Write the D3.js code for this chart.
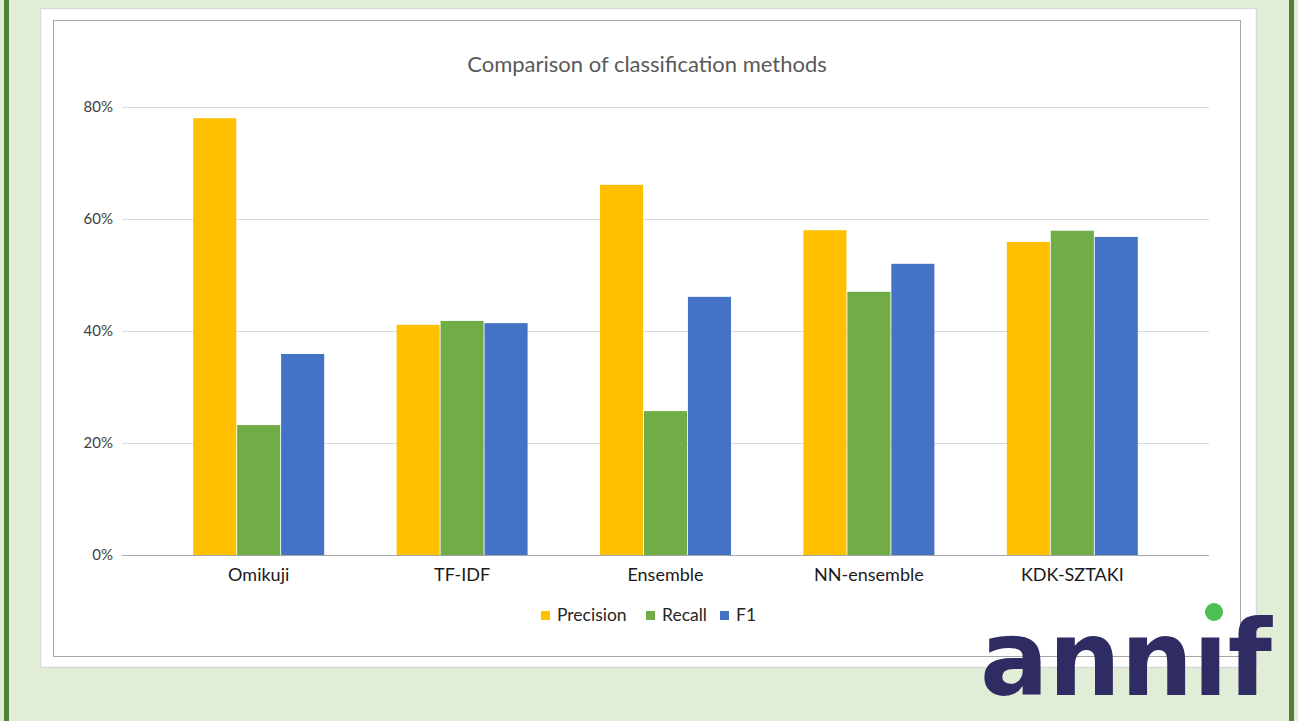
<!DOCTYPE html>
<html><head><meta charset="utf-8">
<script src="https://cdn.jsdelivr.net/npm/d3@7"></script>
<style>html,body{margin:0;padding:0;background:#e2edd8;overflow:hidden}</style>
</head><body>
<script>
const categories = ["Omikuji","TF-IDF","Ensemble","NN-ensemble","KDK-SZTAKI"];
const seriesNames = ["Precision","Recall","F1"];
const precision = [78.0, 41.1, 66.1, 58.0, 55.9];
const recall    = [23.2, 41.8, 25.7, 47.0, 57.9];
const f1        = [35.9, 41.4, 46.1, 52.0, 56.8];
const yTicks = [0, 20, 40, 60, 80];
const colors = ["#FFC000","#70AD47","#4472C4"];
const title = "Comparison of classification methods";

const W = 1298, H = 721;
const svg = d3.select("body").append("svg").attr("width", W).attr("height", H);
svg.append("rect").attr("width", W).attr("height", H).attr("fill", "#e2edd8");
svg.append("rect").attr("x", 4).attr("y", 0).attr("width", 5).attr("height", H).attr("fill", "#538135");
svg.append("rect").attr("x", 1289).attr("y", 0).attr("width", 5).attr("height", H).attr("fill", "#538135");
svg.append("rect").attr("x", 40.5).attr("y", 8.5).attr("width", 1216).attr("height", 659)
  .attr("fill", "#fff").attr("stroke", "#d9d9d9").attr("stroke-width", 1.5);
svg.append("rect").attr("x", 53.5).attr("y", 20.5).attr("width", 1187).attr("height", 636)
  .attr("fill", "#fff").attr("stroke", "#a6a6a6").attr("stroke-width", 1);

const font = "Lato, 'Open Sans', sans-serif";
svg.append("text").attr("x", 647).attr("y", 72).attr("text-anchor", "middle")
  .attr("font-family", font).attr("font-size", 22).attr("fill", "#595959").text(title);

const y = d3.scaleLinear().domain([0, 80]).range([555, 107]);
const x0 = d3.scaleBand().domain(categories).range([157, 1174]).paddingInner(0.356).paddingOuter(0.178);
const x1 = d3.scaleBand().domain(seriesNames).range([0, x0.bandwidth()]).paddingInner(0.02);

const grid = svg.append("g");
yTicks.forEach(t => {
  grid.append("line").attr("x1", 122).attr("x2", 1209).attr("y1", y(t) + 0.5).attr("y2", y(t) + 0.5)
    .attr("stroke", t === 0 ? "#a6a6a6" : "#d9d9d9").attr("stroke-width", 1);
});
const yAxis = svg.append("g").attr("transform", "translate(122,0)")
  .call(d3.axisLeft(y).tickValues(yTicks).tickFormat(d => d + "%").tickSize(0).tickPadding(9));
yAxis.select(".domain").remove();
yAxis.selectAll("text").attr("font-family", font).attr("font-size", 15).attr("fill", "#404040");

const data = categories.map((c, i) => ({cat: c, vals: [precision[i], recall[i], f1[i]]}));
const groups = svg.append("g").selectAll("g").data(data).join("g")
  .attr("transform", d => `translate(${x0(d.cat)},0)`);
groups.selectAll("rect").data(d => d.vals.map((v, j) => ({name: seriesNames[j], v, j}))).join("rect")
  .attr("x", d => x1(d.name)).attr("width", x1.bandwidth())
  .attr("y", d => y(d.v)).attr("height", d => y(0) - y(d.v))
  .attr("fill", d => colors[d.j]);

const xAxis = svg.append("g").attr("transform", "translate(0,555)")
  .call(d3.axisBottom(x0).tickSize(0).tickPadding(13));
xAxis.select(".domain").remove();
xAxis.selectAll("text").attr("font-family", font).attr("font-size", 18).attr("fill", "#1a1a1a");

const legendX = [541, 646, 720];
const lg = svg.append("g");
seriesNames.forEach((s, i) => {
  lg.append("rect").attr("x", legendX[i]).attr("y", 611).attr("width", 9).attr("height", 9).attr("fill", colors[i]);
  lg.append("text").attr("x", legendX[i] + 16).attr("y", 621).attr("font-family", font)
    .attr("font-size", 17.5).attr("fill", "#262626").text(s);
});

// annif logo
const logo = svg.append("g");
logo.append("text").attr("x", 980).attr("y", 695).attr("textLength", 292).attr("lengthAdjust", "spacingAndGlyphs")
  .attr("font-family", "'DejaVu Sans', sans-serif").attr("font-weight", "bold").attr("font-size", 106)
  .attr("fill", "#2e2c63").text("ann\u0131f");
logo.append("circle").attr("cx", 1214).attr("cy", 612).attr("r", 9).attr("fill", "#4cc050");
</script>
</body></html>
